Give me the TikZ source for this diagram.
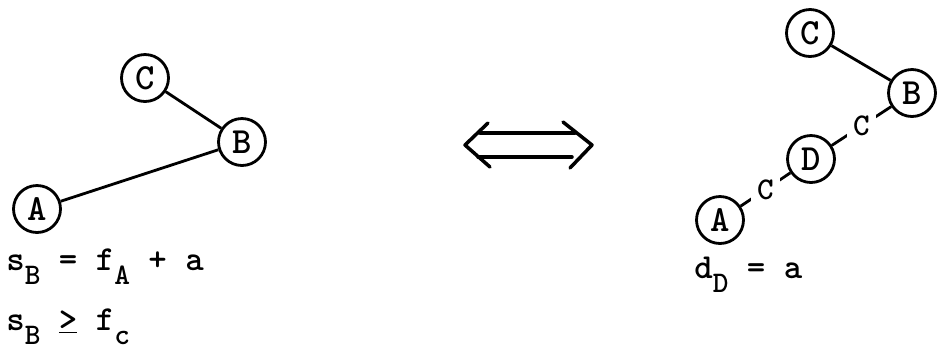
\documentclass[tikz,border=0pt]{standalone}
\usepackage{tikz}
\usetikzlibrary{positioning}
\newcommand{\lowsub}[1]{\raisebox{-0.4em}{\fontsize{17}{17}\selectfont #1}}
\begin{document}
\begin{tikzpicture}[x=0.02cm,y=-0.02cm,
  vtx/.style={draw,circle,line width=1.6pt,minimum size=0.94cm,inner sep=0pt,
    font=\ttfamily\bfseries\fontsize{21}{24}\selectfont},
  edge/.style={line width=1.6pt},
  elbl/.style={fill=white,inner sep=3.5pt,font=\ttfamily\bfseries\fontsize{18}{20}\selectfont},
  eqn/.style={anchor=base west,inner sep=0pt,font=\ttfamily\bfseries\fontsize{20}{22}\selectfont},
  dblarrow/.style={line width=2pt,line cap=round,line join=round}]
\useasboundingbox (0,0) rectangle (937,353);
% left graph
\node[vtx] (lc) at (145,78) {C};
\node[vtx] (lb) at (242,142) {B};
\node[vtx] (la) at (37,209) {A};
\draw[edge] (lc) -- (lb);
\draw[edge] (la) -- (lb);
\node[eqn] (eq1) at (6,270) {s\lowsub{B}~=~f\lowsub{A}~+~a};
\node[eqn] (eq2) at (6,330) {s\lowsub{B}~\underline{>}~f\lowsub{c}};
% equivalence sign
\draw[dblarrow] (480,133) -- (575,133);
\draw[dblarrow] (478,157) -- (572,157);
\draw[dblarrow] (488,123) -- (465,145) -- (490,167);
\draw[dblarrow] (563,122) -- (592,145) -- (570,168);
% right graph
\node[vtx] (rc) at (810,33) {C};
\node[vtx] (rb) at (912,93) {B};
\node[vtx] (rd) at (811,159) {D};
\node[vtx] (ra) at (720,220) {A};
\draw[edge] (rc) -- (rb);
\draw[edge] (rb) -- node[elbl] {C} (rd);
\draw[edge] (rd) -- node[elbl] {C} (ra);
\node[eqn] (eq3) at (694,278) {d\lowsub{D}~=~a};
\end{tikzpicture}
\end{document}
